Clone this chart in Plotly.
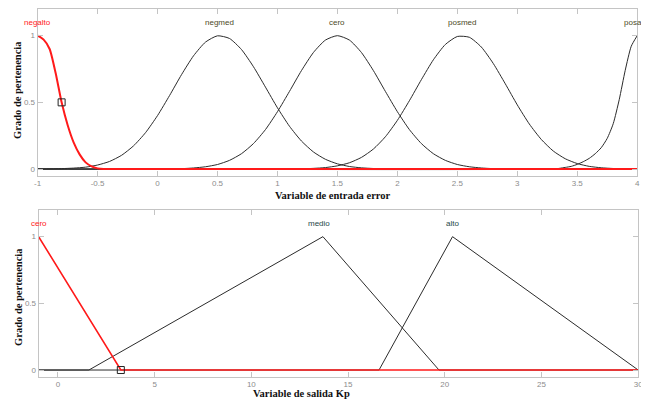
import plotly.graph_objects as go

W, H = 649, 400

# ---------------- data: top plot (input "error") ----------------
negalto_x = [-1, -0.95, -0.9, -0.85, -0.8, -0.75, -0.7, -0.65, -0.6, -0.55, -0.5, -0.45, 4]
negalto_y = [1.0, 0.97, 0.9, 0.72, 0.5, 0.33, 0.2, 0.11, 0.05, 0.02, 0.005, 0.0, 0.0]

negmed_x = [-1, -0.8, -0.7, -0.6, -0.5, -0.4, -0.3, -0.2, -0.1, 0.0, 0.1, 0.2, 0.3, 0.4, 0.5,
            0.6, 0.7, 0.8, 0.9, 1.0, 1.1, 1.2, 1.3, 1.4, 1.5, 1.6, 1.7, 1.8, 1.9, 2.0, 4]
negmed_y = [0, 0.003, 0.007, 0.014, 0.03, 0.057, 0.103, 0.174, 0.273, 0.401, 0.551, 0.708, 0.849, 0.952, 0.999,
            0.979, 0.896, 0.767, 0.614, 0.459, 0.321, 0.21, 0.128, 0.073, 0.039, 0.019, 0.009, 0.004, 0.002, 0.001, 0]

cero_x = [-1, 0.2, 0.3, 0.4, 0.5, 0.6, 0.7, 0.8, 0.9, 1.0, 1.1, 1.2, 1.3, 1.4, 1.5,
          1.6, 1.7, 1.8, 1.9, 2.0, 2.1, 2.2, 2.3, 2.4, 2.5, 2.6, 2.7, 2.8, 4]
cero_y = [0, 0.003, 0.008, 0.017, 0.034, 0.065, 0.115, 0.191, 0.296, 0.43, 0.582, 0.738, 0.874, 0.967, 1.0,
          0.967, 0.874, 0.738, 0.582, 0.43, 0.296, 0.191, 0.115, 0.065, 0.034, 0.017, 0.008, 0.003, 0]

posmed_x = [-1, 1.2, 1.3, 1.4, 1.5, 1.6, 1.7, 1.8, 1.9, 2.0, 2.1, 2.2, 2.3, 2.4, 2.5, 2.6,
            2.7, 2.8, 2.9, 3.0, 3.1, 3.2, 3.3, 3.4, 3.5, 3.6, 3.7, 3.8, 3.9, 4]
posmed_y = [0, 0.002, 0.005, 0.011, 0.024, 0.047, 0.087, 0.15, 0.242, 0.365, 0.512, 0.67, 0.819, 0.934, 0.994, 0.988,
            0.915, 0.791, 0.639, 0.481, 0.338, 0.222, 0.135, 0.077, 0.041, 0.02, 0.0095, 0.004, 0.002, 0.001]

posalto_x = [-1, 3.3, 3.35, 3.4, 3.45, 3.5, 3.55, 3.6, 3.65, 3.7, 3.75, 3.8, 3.85, 3.9, 3.95, 4.0]
posalto_y = [0, 0.0, 0.005, 0.012, 0.02, 0.035, 0.055, 0.08, 0.115, 0.16, 0.23, 0.34, 0.52, 0.74, 0.92, 1.0]

top_labels = ["negalto", "negmed", "cero", "posmed", "posalto"]
top_label_x = [-1, 0.52, 1.5, 2.54, 4]
top_marker = [-0.8, 0.5]

top_xticks = [-1, -0.5, 0, 0.5, 1, 1.5, 2, 2.5, 3, 3.5, 4]
top_xticklabels = ["-1", "-0.5", "0", "0.5", "1", "1.5", "2", "2.5", "3", "3.5", "4"]

# ---------------- data: bottom plot (output "Kp") ----------------
kcero_x = [-1, 3.25, 30]
kcero_y = [1, 0, 0]
medio_x = [-1, 1.6, 13.7, 19.7, 30]
medio_y = [0, 0, 1, 0, 0]
alto_x = [-1, 16.6, 20.4, 30]
alto_y = [0, 0, 1, 0]

bot_labels = ["cero", "medio", "alto"]
bot_label_x = [-1, 13.5, 20.4]
bot_marker = [3.25, 0]

bot_xticks = [0, 5, 10, 15, 20, 25, 30]
bot_xticklabels = ["0", "5", "10", "15", "20", "25", "30"]

y_ticks = [0, 0.5, 1]
y_ticklabels = ["0", "0.5", "1"]

# ---------------- figure ----------------
fig = go.Figure()
BLACK = "#2b2b2b"
RED = "#ff1a1a"

for xs, ys in [(negmed_x, negmed_y), (cero_x, cero_y), (posmed_x, posmed_y), (posalto_x, posalto_y)]:
    fig.add_trace(go.Scatter(x=xs, y=ys, mode="lines", line=dict(color=BLACK, width=1, shape="spline", smoothing=0.6),
                             xaxis="x", yaxis="y", showlegend=False, hoverinfo="skip"))
fig.add_trace(go.Scatter(x=negalto_x, y=negalto_y, mode="lines", line=dict(color=RED, width=2, shape="spline", smoothing=0.6),
                         xaxis="x", yaxis="y", showlegend=False, hoverinfo="skip"))
fig.add_trace(go.Scatter(x=[top_marker[0]], y=[top_marker[1]], mode="markers",
                         marker=dict(symbol="square-open", size=7, color="#222", line=dict(width=1)),
                         xaxis="x", yaxis="y", showlegend=False, hoverinfo="skip"))

for xs, ys in [(medio_x, medio_y), (alto_x, alto_y)]:
    fig.add_trace(go.Scatter(x=xs, y=ys, mode="lines", line=dict(color=BLACK, width=1),
                             xaxis="x2", yaxis="y2", showlegend=False, hoverinfo="skip"))
fig.add_trace(go.Scatter(x=kcero_x, y=kcero_y, mode="lines", line=dict(color=RED, width=1.6),
                         xaxis="x2", yaxis="y2", showlegend=False, hoverinfo="skip"))
fig.add_trace(go.Scatter(x=[bot_marker[0]], y=[bot_marker[1]], mode="markers",
                         marker=dict(symbol="square-open", size=7, color="#222", line=dict(width=1)),
                         xaxis="x2", yaxis="y2", showlegend=False, hoverinfo="skip"))

# the page body adds an 8px margin around the figure; compensate in the layout
OFF = 8

def px_x(p):
    return (p - OFF) / W

def px_y(p):
    return 1 - (p - OFF) / H

axis_common = dict(showline=True, linecolor="#c4c4c4", linewidth=1, mirror="ticks", ticks="inside",
                   ticklen=5, tickcolor="#c4c4c4", showgrid=False, zeroline=False,
                   tickfont=dict(family="Arial, Liberation Sans, sans-serif", size=8, color="#8c8c8c"))

fig.update_layout(
    width=W, height=H, margin=dict(l=0, r=0, t=0, b=0),
    paper_bgcolor="white", plot_bgcolor="white",
    xaxis=dict(domain=[px_x(34), px_x(642)], range=[-1, 4], tickvals=top_xticks, ticktext=top_xticklabels,
               anchor="y", **axis_common),
    yaxis=dict(domain=[px_y(175.7), px_y(9)], range=[-0.05, 1.2], tickvals=y_ticks, ticktext=y_ticklabels,
               anchor="x", **axis_common),
    xaxis2=dict(domain=[px_x(35), px_x(643)], range=[-1, 30], tickvals=bot_xticks, ticktext=bot_xticklabels,
                anchor="y2", **axis_common),
    yaxis2=dict(domain=[px_y(376.7), px_y(210)], range=[-0.05, 1.2], tickvals=y_ticks, ticktext=y_ticklabels,
                anchor="x2", **axis_common),
)

ann = []
LABEL_FONT = "Arial, Liberation Sans, sans-serif"
for i, (t, x) in enumerate(zip(top_labels, top_label_x)):
    col = RED if i == 0 else "#4d4a1f"
    ann.append(dict(x=x, y=1.1, xref="x", yref="y", text=t, showarrow=False,
                    xanchor="center", yanchor="middle",
                    font=dict(family=LABEL_FONT, size=8, color=col)))
for i, (t, x) in enumerate(zip(bot_labels, bot_label_x)):
    col = RED if i == 0 else "#264848"
    ann.append(dict(x=x, y=1.1, xref="x2", yref="y2", text=t, showarrow=False,
                    xanchor="center", yanchor="middle",
                    font=dict(family=LABEL_FONT, size=8, color=col)))

TITLE_FONT = dict(family="Liberation Serif, Times New Roman, serif", size=10.5, color="#111")
titles = [
    ("<b>Variable de entrada error</b>", 334, 195, 0),
    ("<b>Variable de salida Kp</b>", 302, 393, 0),
    ("<b>Grado de pertenencia</b>", 14, 90, -90),
    ("<b>Grado de pertenencia</b>", 14, 297, -90),
]
for t, x, y, ang in titles:
    ann.append(dict(x=px_x(x), y=px_y(y), xref="paper", yref="paper", text=t, showarrow=False,
                    xanchor="center", yanchor="middle", textangle=ang, font=TITLE_FONT))
fig.update_layout(annotations=ann)

fig.write_html("out.html", config={"displayModeBar": False})
